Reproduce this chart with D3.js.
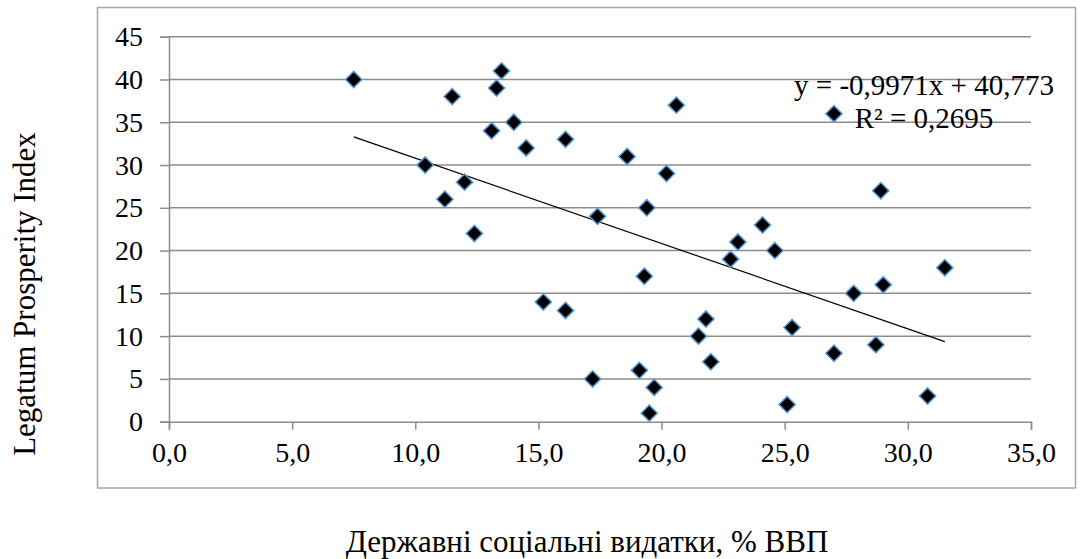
<!DOCTYPE html>
<html>
<head>
<meta charset="utf-8">
<script src="https://cdn.jsdelivr.net/npm/d3@7"></script>
<style>
  body { margin: 0; background: #fff; }
  text { font-family: "Liberation Serif", "Times New Roman", serif; fill: #000; }
</style>
</head>
<body>
<svg width="1081" height="559"></svg>
<script>
// social spending, % of GDP
var spending = [7.5, 10.4, 11.5, 13.5, 13.3, 14.0, 13.1, 14.5, 16.1, 12.0, 11.2, 12.4, 17.4, 18.6,
  20.6, 20.2, 19.4, 27.0, 28.9, 24.1, 23.1, 24.6, 22.8, 19.3, 15.2, 16.1, 21.8, 21.5, 22.0,
  17.2, 19.1, 19.7, 19.5, 31.5, 29.0, 27.8, 25.3, 27.0, 28.7, 30.8, 25.1];
// Legatum Prosperity Index rank
var legatum = [40, 30, 38, 41, 39, 35, 34, 32, 33, 28, 26, 22, 24, 31,
  37, 29, 25, 36, 27, 23, 21, 20, 19, 17, 14, 13, 12, 10, 7,
  5, 6, 4, 1, 18, 16, 15, 11, 8, 9, 3, 2];

var xTicks = [0, 5, 10, 15, 20, 25, 30, 35];
var yTicks = [0, 5, 10, 15, 20, 25, 30, 35, 40, 45];

// linear trend from the chart
var slope = -0.9971, intercept = 40.773, r2 = 0.2695;

var svg = d3.select("svg");
var fmtComma = function(v, digits){ return v.toFixed(digits).replace(".", ","); };

var x = d3.scaleLinear().domain([0, 35]).range([169, 1031]);
var y = d3.scaleLinear().domain([0, 45]).range([421.7, 36.7]);

// outer chart frame
svg.append("rect")
  .attr("x", 97.5).attr("y", 7.5)
  .attr("width", 978).attr("height", 480.5)
  .attr("fill", "none").attr("stroke", "#a6a6a6").attr("stroke-width", 1.5);

// horizontal grid
svg.append("g").selectAll("line").data(yTicks.filter(d => d > 0)).join("line")
  .attr("x1", x(0)).attr("x2", x(35))
  .attr("y1", d => y(d)).attr("y2", d => y(d))
  .attr("stroke", "#8c8c8c").attr("stroke-width", 1.5);

// y axis
var yAxis = svg.append("g")
  .attr("transform", "translate(" + x(0) + ",0)")
  .call(d3.axisLeft(y).tickValues(yTicks).tickSize(9).tickPadding(17).tickFormat(d => d));
yAxis.select(".domain").attr("stroke", "#8c8c8c").attr("stroke-width", 1.5);
yAxis.selectAll(".tick line").attr("stroke", "#8c8c8c").attr("stroke-width", 1.5);
yAxis.selectAll("text").attr("font-size", 28).attr("font-family", "Liberation Serif").attr("fill", "#000");

// x axis
var xAxis = svg.append("g")
  .attr("transform", "translate(0," + y(0) + ")")
  .call(d3.axisBottom(x).tickValues(xTicks).tickSize(8).tickPadding(12).tickFormat(d => fmtComma(d, 1)));
xAxis.select(".domain").attr("stroke", "#8c8c8c").attr("stroke-width", 1.5);
xAxis.selectAll(".tick line").attr("stroke", "#8c8c8c").attr("stroke-width", 1.5);
xAxis.selectAll("text").attr("font-size", 28).attr("font-family", "Liberation Serif").attr("fill", "#000");

// trend line
var ext = d3.extent(spending);
svg.append("line")
  .attr("x1", x(ext[0])).attr("y1", y(slope * ext[0] + intercept))
  .attr("x2", x(ext[1])).attr("y2", y(slope * ext[1] + intercept))
  .attr("stroke", "#000").attr("stroke-width", 1.2);

// points
var diamond = d3.symbol().type(d3.symbolDiamond2).size(170);
svg.append("g").selectAll("path").data(spending).join("path")
  .attr("d", diamond)
  .attr("transform", (d, i) => "translate(" + x(d) + "," + y(legatum[i]) + ")")
  .attr("fill", "#000").attr("stroke", "#5b9bd5").attr("stroke-width", 1.5);

// equation label
svg.append("text").attr("x", 924).attr("y", 95).attr("text-anchor", "middle")
  .attr("font-size", 29)
  .text("y = " + fmtComma(slope, 4) + "x + " + fmtComma(intercept, 3));
svg.append("text").attr("x", 924).attr("y", 128).attr("text-anchor", "middle")
  .attr("font-size", 29)
  .text("R² = " + fmtComma(r2, 4));

// axis titles
svg.append("text")
  .attr("transform", "translate(35,294) rotate(-90)")
  .attr("text-anchor", "middle").attr("font-size", 31)
  .text("Legatum Prosperity Index");
svg.append("text").attr("x", 587).attr("y", 552).attr("text-anchor", "middle")
  .attr("font-size", 31)
  .text("Державні соціальні видатки, % ВВП");
</script>
</body>
</html>
